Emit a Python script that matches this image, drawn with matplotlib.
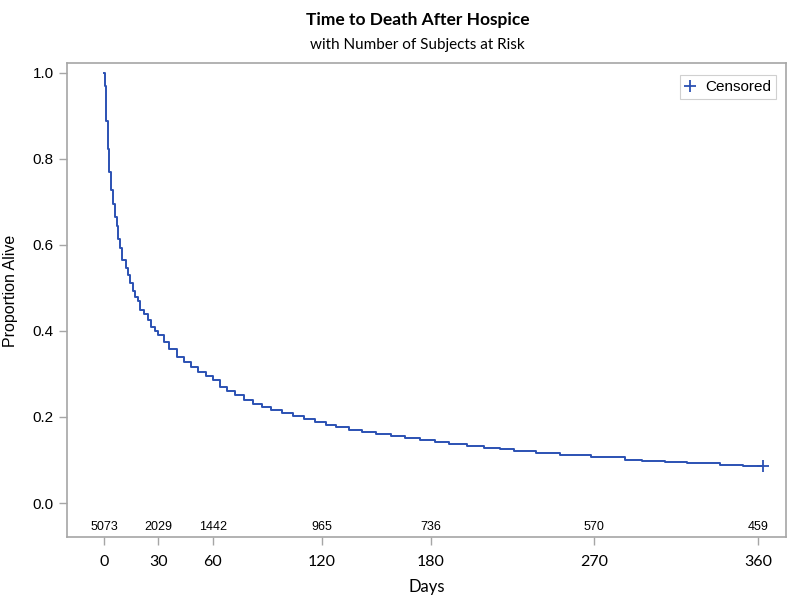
import matplotlib
matplotlib.use('Agg')
from matplotlib import pyplot as plt
from matplotlib.lines import Line2D

# Kaplan-Meier estimate
days = [0, 0.5, 1, 2, 3, 4, 5, 6, 7, 8, 9, 10, 12, 13, 14.5, 16, 17, 18.5,
        20, 22, 24, 26, 28, 30, 33, 36, 40, 44, 48, 52, 56, 60, 64, 68, 72,
        77, 82, 87, 92, 98, 104, 110, 116, 122, 128, 135, 142, 150, 158, 166,
        174, 182, 190, 200, 209, 218, 226, 238, 251, 268, 287, 296, 309, 321,
        339, 352, 363]
surv = [1.0, 0.969, 0.889, 0.823, 0.769, 0.728, 0.695, 0.666, 0.643, 0.614,
        0.592, 0.565, 0.546, 0.530, 0.512, 0.494, 0.480, 0.469,
        0.449, 0.440, 0.425, 0.410, 0.399, 0.390, 0.374, 0.358, 0.340, 0.328,
        0.316, 0.305, 0.296, 0.287, 0.270, 0.260, 0.250,
        0.240, 0.231, 0.223, 0.217, 0.210, 0.203, 0.196, 0.189, 0.182, 0.176,
        0.170, 0.165, 0.160, 0.155, 0.150,
        0.146, 0.141, 0.137, 0.133, 0.129, 0.125, 0.122, 0.117, 0.111, 0.106,
        0.101, 0.098, 0.095, 0.092, 0.089, 0.086, 0.086]
censor_day = [363]
censor_surv = [0.086]

tick_days = [0, 30, 60, 120, 180, 270, 360]
at_risk = [5073, 2029, 1442, 965, 736, 570, 459]

blue = '#2b51b3'
gray = '#a6a6a6'
narrow = ['Liberation Sans Narrow', 'Lato', 'DejaVu Sans']
arial = ['Liberation Sans', 'DejaVu Sans']

fig = plt.figure(figsize=(8, 6.13), dpi=100)
ax = fig.add_axes([0.0838, 0.124, 0.8987, 0.7732])

ax.plot(days, surv, drawstyle='steps-post', color=blue, lw=1.4)
ax.plot(censor_day, censor_surv, '+', color=blue, ms=9, mew=1.3)

ax.set_xlim(-20.3, 375.5)
ax.set_ylim(-0.079, 1.023)
ax.set_yticks([0.0, 0.2, 0.4, 0.6, 0.8, 1.0])
ax.set_yticklabels(['0.0', '0.2', '0.4', '0.6', '0.8', '1.0'], family=arial, fontsize=11)
ax.set_xticks(tick_days)
ax.set_xticklabels([str(d) for d in tick_days], family=narrow, fontsize=11.5)
ax.tick_params(axis='both', color=gray, length=6, width=1)
ax.tick_params(axis='x', pad=7)
for s in ax.spines.values():
    s.set_color(gray)
    s.set_linewidth(1.2)

for d, n in zip(tick_days, at_risk):
    ax.text(d, -0.056, str(n), ha='center', va='center', fontsize=9, family=arial)

ax.set_ylabel('Proportion Alive', family=arial, fontsize=11.5, va='center')
ax.yaxis.set_label_coords(-0.078, 0.52)
ax.set_xlabel('Days', family=narrow, fontsize=12, labelpad=7)

fig.text(0.522, 0.968, 'Time to Death After Hospice', ha='center', va='center',
         fontsize=12.5, fontweight='bold', family=narrow)
fig.text(0.522, 0.927, 'with Number of Subjects at Risk', ha='center', va='center',
         fontsize=11, family=narrow)

h = Line2D([], [], ls='none', marker='+', color=blue, ms=8, mew=1.3)
leg = ax.legend([h], ['Censored'], loc='upper right', prop={'family': arial, 'size': 11},
                handlelength=0.8, handletextpad=0.6, borderpad=0.3, fancybox=False,
                edgecolor='#d0d0d0', framealpha=1, bbox_to_anchor=(0.997, 0.99))
leg.get_frame().set_linewidth(0.8)

fig.savefig('out.png', dpi=100)
